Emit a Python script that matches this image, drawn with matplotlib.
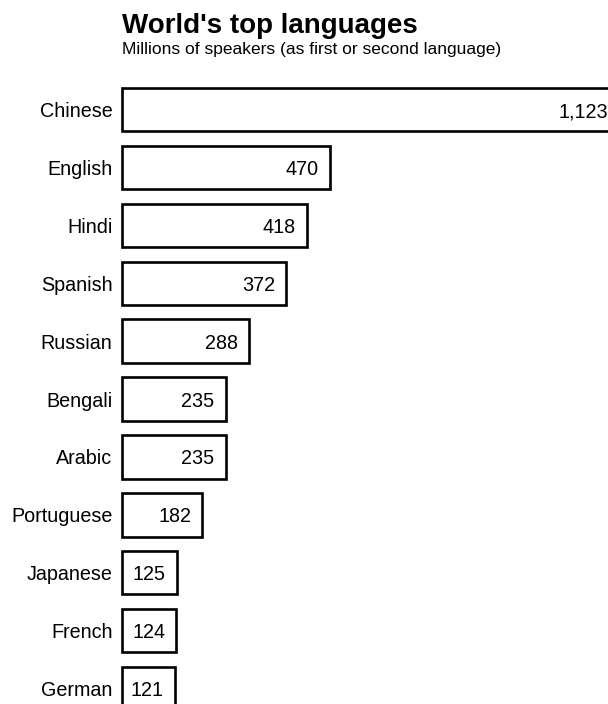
import matplotlib
matplotlib.use('Agg')
import matplotlib.pyplot as plt

plt.rcParams['font.family'] = ['Liberation Sans', 'DejaVu Sans']

languages = ['Chinese', 'English', 'Hindi', 'Spanish', 'Russian', 'Bengali',
             'Arabic', 'Portuguese', 'Japanese', 'French', 'German']
speakers = [1123, 470, 418, 372, 288, 235, 235, 182, 125, 124, 121]

W, H = 608, 704
fig = plt.figure(figsize=(W / 100, H / 100), dpi=100)

# axes placed in pixels; the longest bar and last row run off the canvas
x0 = 121.5
px_per_unit = 0.443
y_top, y_bot = 80.6, 717.5
ax = fig.add_axes([x0 / W, (H - y_bot) / H,
                   1123 * px_per_unit / W, (y_bot - y_top) / H])
ax.set_xlim(0, 1123)
ax.set_ylim(len(languages) - 0.5, -0.5)

pos = range(len(languages))
rects = ax.barh(pos, speakers, height=0.75, color='white',
                edgecolor='black', linewidth=1.9, clip_on=False)

for i, rect in enumerate(rects):
    ax.annotate(f'{speakers[i]:,}', (rect.get_width(), i),
                xytext=(-8, 0), textcoords='offset points',
                ha='right', va='center_baseline', fontsize=14.2)

ax.set_yticks(list(pos))
ax.set_yticklabels(languages, fontsize=14.2)
for lab in ax.get_yticklabels():
    lab.set_verticalalignment('center_baseline')
ax.tick_params(axis='y', length=0, pad=6.5)
ax.set_xticks([])
for s in ax.spines.values():
    s.set_visible(False)

fig.text(x0 / W, 1 - 33 / H, "World's top languages", fontsize=20,
         fontweight='bold', ha='left', va='baseline')
fig.text(x0 / W, 1 - 54 / H, 'Millions of speakers (as first or second language)',
         fontsize=12.5, ha='left', va='baseline')

fig.savefig('out.png', dpi=100)
